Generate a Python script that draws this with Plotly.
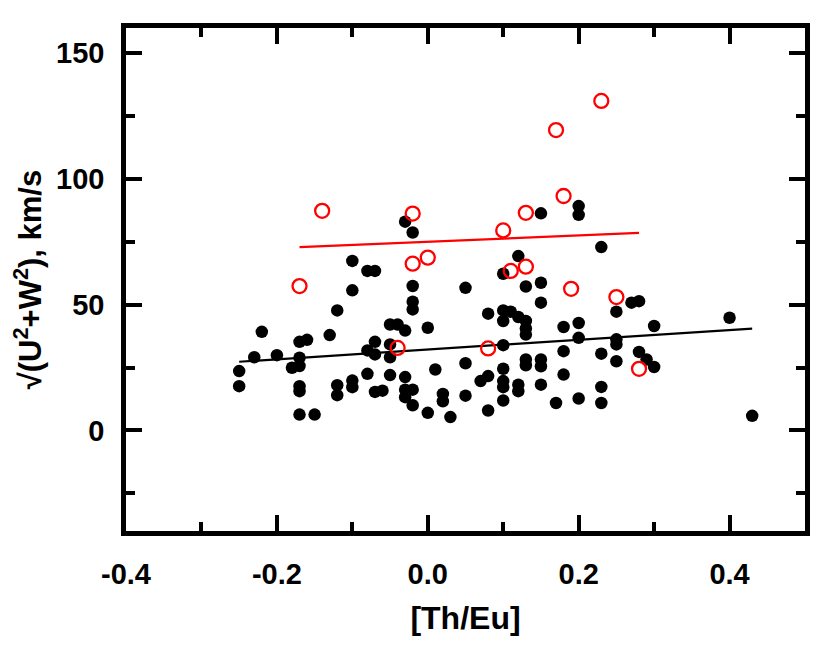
import plotly.graph_objects as go

# Black (filled) sample
black_x = [-0.03, -0.02, -0.10, -0.08, -0.07, 0.05, -0.02, -0.10, -0.02, -0.02,
           -0.12, -0.22, -0.05, -0.04, -0.03, 0.00, -0.13, -0.17, -0.16, -0.07,
           -0.05, -0.08, -0.07, -0.05, -0.23, -0.20, -0.17, -0.17, -0.18, -0.25,
           -0.25, -0.17, -0.17, -0.12, -0.12, -0.10, -0.10, -0.08, -0.07, -0.06,
           -0.05, -0.03, -0.03, -0.02, -0.03, -0.02, 0.01, 0.00, 0.02, 0.02,
           0.03, 0.05, 0.05, -0.17, -0.15, 0.15, 0.27, 0.28, 0.25, 0.40,
           0.08, 0.10, 0.11, 0.10, 0.12, 0.13, 0.13, 0.13, 0.18, 0.20,
           0.20, 0.30, 0.25, 0.25, 0.10, 0.18, 0.23, 0.28, 0.29, 0.30,
           0.25, 0.13, 0.13, 0.15, 0.15, 0.10, 0.18, 0.08, 0.07, 0.10,
           0.10, 0.12, 0.12, 0.15, 0.23, 0.10, 0.17, 0.20, 0.23, 0.08,
           0.43, 0.15, 0.20, 0.20, 0.23, 0.12, 0.10, 0.13, 0.15]
black_y = [83.0, 78.7, 67.4, 63.4, 63.4, 56.7, 57.4, 55.7, 51.2, 48.1,
           47.7, 39.2, 42.1, 42.1, 39.7, 40.8, 37.9, 35.2, 36.0, 35.2,
           34.2, 31.8, 30.2, 29.1, 29.1, 29.9, 28.9, 25.6, 24.9, 23.6,
           17.6, 17.6, 15.6, 18.0, 14.0, 19.8, 17.2, 22.5, 15.3, 15.8,
           22.0, 21.2, 16.2, 16.2, 13.2, 10.0, 24.2, 7.0, 14.5, 11.6,
           5.3, 26.7, 13.8, 6.3, 6.3, 50.8, 50.8, 51.4, 47.2, 44.8,
           46.4, 47.7, 47.2, 43.5, 45.1, 43.5, 40.5, 38.1, 41.1, 42.7,
           36.8, 41.5, 36.2, 34.2, 33.9, 31.5, 30.5, 31.2, 28.2, 25.2,
           27.5, 28.2, 25.9, 28.2, 25.5, 24.5, 22.2, 21.6, 19.6, 19.6,
           17.2, 18.2, 15.6, 18.2, 17.3, 11.9, 10.9, 12.7, 10.9, 7.9,
           5.8, 86.3, 89.2, 85.7, 72.9, 69.3, 62.3, 57.2, 58.7]

# Red (open) sample
red_x = [-0.14, -0.02, -0.02, 0.00, -0.17, -0.04, 0.23, 0.17, 0.18,
         0.13, 0.10, 0.13, 0.11, 0.19, 0.25, 0.08, 0.28]
red_y = [87.3, 86.2, 66.3, 68.7, 57.4, 32.8, 131.0, 119.4, 93.2,
         86.5, 79.5, 65.1, 63.4, 56.3, 53.0, 32.6, 24.5]

# Trend lines (end points)
black_fit_x = [-0.25, 0.43]
black_fit_y = [27.3, 40.5]
red_fit_x = [-0.17, 0.28]
red_fit_y = [72.9, 78.5]

x_ticks = [-0.4, -0.2, 0.0, 0.2, 0.4]
x_tick_labels = ["-0.4", "-0.2", "0.0", "0.2", "0.4"]
y_ticks = [0, 50, 100, 150]
y_tick_labels = ["0", "50", "100", "150"]

FONT = "Liberation Sans, Arial, sans-serif"

fig = go.Figure()
fig.add_trace(go.Scatter(x=black_x, y=black_y, mode="markers",
                         marker=dict(symbol="circle", size=12.5, color="black",
                                     line=dict(width=0)),
                         showlegend=False))
fig.add_trace(go.Scatter(x=black_fit_x, y=black_fit_y, mode="lines",
                         line=dict(color="black", width=2.2), showlegend=False))
fig.add_trace(go.Scatter(x=red_x, y=red_y, mode="markers",
                         marker=dict(symbol="circle-open", size=14, color="red",
                                     line=dict(width=2.3, color="red")),
                         showlegend=False))
fig.add_trace(go.Scatter(x=red_fit_x, y=red_fit_y, mode="lines",
                         line=dict(color="red", width=2.3), showlegend=False))

axis_common = dict(
    showline=True, linewidth=4.5, linecolor="black", mirror="allticks",
    ticks="inside", ticklen=16, tickwidth=3.5, tickcolor="black",
    showgrid=False, zeroline=False,
    tickfont=dict(family=FONT, size=29, color="black", weight="bold"),
)

fig.update_xaxes(
    range=[-0.4, 0.5], tickmode="array", tickvals=x_ticks, ticktext=x_tick_labels,
    minor=dict(ticks="inside", ticklen=9, tickwidth=3.5, tickcolor="black",
               dtick=0.1, tick0=-0.4),
    ticklabelstandoff=13,
    title=dict(text="[Th/Eu]", standoff=20,
               font=dict(family=FONT, size=32, color="black", weight="bold")),
    **axis_common,
)
fig.update_yaxes(
    range=[-40, 160], tickmode="array", tickvals=y_ticks, ticktext=y_tick_labels,
    minor=dict(ticks="inside", ticklen=9, tickwidth=3.5, tickcolor="black",
               dtick=25, tick0=0),
    ticklabelstandoff=11,
    title=dict(text="√(U<sup>2</sup>+W<sup>2</sup>), km/s", standoff=8,
               font=dict(family=FONT, size=31, color="black", weight="bold")),
    **axis_common,
)

fig.update_layout(
    width=831, height=649,
    margin=dict(l=118, r=34, t=20, b=126),
    paper_bgcolor="white", plot_bgcolor="white",
)

fig.write_html("out.html")
